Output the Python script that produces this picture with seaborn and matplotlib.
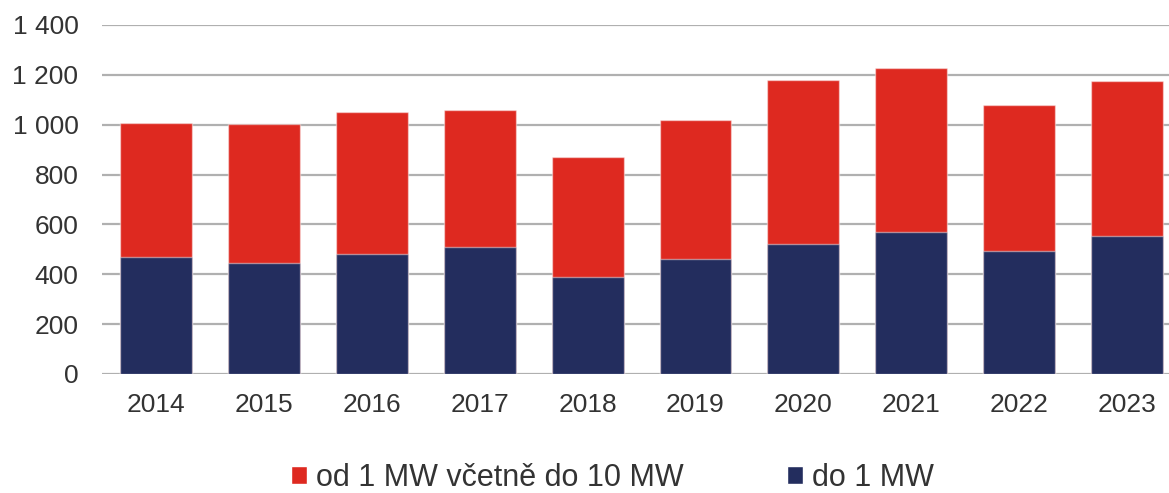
import matplotlib
matplotlib.use("Agg")
import matplotlib.pyplot as plt
import seaborn as sns
import pandas as pd
from matplotlib.patches import Patch
from matplotlib.ticker import FuncFormatter

# Data
years = ["2014", "2015", "2016", "2017", "2018", "2019", "2020", "2021", "2022", "2023"]
do_1mw = [468, 444, 480, 509, 391, 461, 521, 568, 492, 552]
od_1_do_10mw = [540, 557, 570, 551, 479, 558, 658, 658, 586, 622]

label_large = "od 1 MW včetně do 10 MW"
label_small = "do 1 MW"

red = "#DE2920"
navy = "#232D5E"

df = pd.DataFrame({"Rok": years, "small": do_1mw, "large": od_1_do_10mw})
df["total"] = df["small"] + df["large"]

sns.set_theme(style="white")
plt.rcParams["font.family"] = ["Liberation Sans", "DejaVu Sans"]

fig = plt.figure(figsize=(11.69, 4.93), dpi=100)
ax = fig.add_axes([0.0873, 0.2414, 0.923, 0.708])

edge = (1, 1, 1, 0.45)
# total height in red, small part drawn over it in navy
sns.barplot(data=df, x="Rok", y="total", color=red, width=0.667,
            saturation=1, edgecolor=edge, linewidth=1, ax=ax, zorder=3)
sns.barplot(data=df, x="Rok", y="small", color=navy, width=0.667,
            saturation=1, edgecolor=edge, linewidth=1, ax=ax, zorder=4)

ax.set_ylim(0, 1400)
ax.set_yticks(range(0, 1401, 200))
ax.yaxis.set_major_formatter(FuncFormatter(lambda v, p: f"{int(v):,}".replace(",", " ")))
ax.yaxis.grid(True, color="#b0b0b0", linewidth=1.6, zorder=0)
ax.set_axisbelow(True)
for s in ax.spines.values():
    s.set_visible(False)

ax.set_xlabel("")
ax.set_ylabel("")
ax.tick_params(axis="both", length=0, labelsize=19, colors="#333333")
ax.tick_params(axis="y", pad=17)
ax.tick_params(axis="x", pad=14)

handles = [Patch(facecolor=red, label=label_large),
           Patch(facecolor=navy, label=label_small)]
fig.legend(handles=handles, loc="center", bbox_to_anchor=(0.524, 0.03), ncol=2,
           frameon=False, fontsize=22, handlelength=0.52, handleheight=0.52,
           handletextpad=0.3, columnspacing=3.4, labelcolor="#333333")

fig.savefig("out.png", dpi=100)
